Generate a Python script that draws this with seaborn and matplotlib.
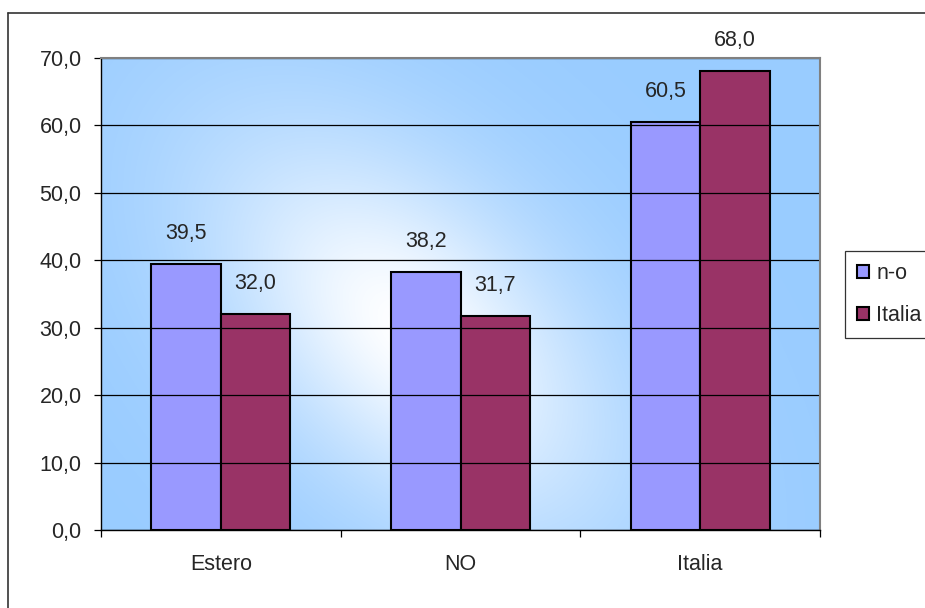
import numpy as np
import pandas as pd
import matplotlib
matplotlib.use("Agg")
import matplotlib.pyplot as plt
import seaborn as sns
from matplotlib.lines import Line2D
from matplotlib.colors import to_rgb

categories = ["Estero", "NO", "Italia"]
series_names = ["n-o", "Italia"]
values_no = [39.5, 38.2, 60.5]
values_italia = [32.0, 31.7, 68.0]
y_ticks = [0, 10, 20, 30, 40, 50, 60, 70]
colors = ["#9999FF", "#993366"]

df = pd.DataFrame({
    "cat": categories * 2,
    "serie": [series_names[0]] * 3 + [series_names[1]] * 3,
    "val": values_no + values_italia,
})

sns.set_style("white")
plt.rcParams["font.family"] = ["Liberation Sans", "DejaVu Sans"]
FS = 15.5

fig = plt.figure(figsize=(9.25, 6.08), dpi=100)
ax = fig.add_axes([101/925, 1-530/608, 719/925, 472/608])

# gradient background
H, W = 300, 460
yy, xx = np.mgrid[0:H, 0:W]
xa = xx / (W - 1)
ya = 1 - yy / (H - 1)
px = xa * 719
py = ya * 472
cx, cy = 0.43 * 719, 0.42 * 472
ang = np.deg2rad(-45)
ux, uy = np.cos(ang), np.sin(ang)
dx, dy = px - cx, py - cy
dpar = dx * ux + dy * uy
dperp = -dx * uy + dy * ux
t = np.exp(-((dpar / 240) ** 2 + (dperp / 140) ** 2) ** 0.9)
base = np.array(to_rgb("#99CCFF"))
white = np.array([1, 1, 1])
img = base[None, None, :] * (1 - t[..., None]) + white[None, None, :] * t[..., None]
ax.imshow(img, extent=[0, 1, 0, 1], transform=ax.transAxes, aspect="auto",
          zorder=0.1, interpolation="bilinear")

sns.barplot(data=df, x="cat", y="val", hue="serie", palette=colors,
            width=0.58, edgecolor="black", linewidth=1.5, ax=ax,
            zorder=2, legend=True, saturation=1)

ax.set_xlim(-0.5, 2.5)
ax.set_ylim(0, 70)
ax.set_yticks(y_ticks)
ax.set_yticklabels([f"{v:.1f}".replace(".", ",") for v in y_ticks], fontsize=FS)
ax.yaxis.grid(True, color="black", linewidth=0.9)
ax.set_axisbelow(False)
for gl in ax.get_ygridlines():
    gl.set_zorder(1)
ax.set_xlabel("")
ax.set_ylabel("")
ax.set_xticks(range(3))
ax.set_xticklabels(categories, fontsize=FS)
ax.set_xticks([-0.5, 0.5, 1.5, 2.5], minor=True)
ax.tick_params(axis="x", which="major", length=0, pad=17)
ax.tick_params(axis="x", which="minor", length=5, width=0.9, color="black", direction="out", bottom=True)
ax.tick_params(axis="y", length=5, width=0.9, color="black", direction="out", left=True, pad=9)

for s in ["top", "right"]:
    ax.spines[s].set_color("#808080")
    ax.spines[s].set_linewidth(1.5)
for s in ["left", "bottom"]:
    ax.spines[s].set_color("black")
    ax.spines[s].set_linewidth(1.0)
for s in ax.spines.values():
    s.set_zorder(3)

for cont in ax.containers:
    for bar in cont:
        h = bar.get_height()
        ax.annotate(f"{h:.1f}".replace(".", ","),
                    xy=(bar.get_x() + bar.get_width() / 2, h),
                    xytext=(0, 22), textcoords="offset points",
                    ha="center", va="center", fontsize=FS, zorder=4)

handles, labels = ax.get_legend_handles_labels()
ax.legend_.remove()
leg = fig.legend(handles, labels, loc="upper left",
                 bbox_to_anchor=(845/925, 1-251/608), bbox_transform=fig.transFigure,
                 fontsize=FS, frameon=True, fancybox=False, edgecolor="black",
                 handlelength=0.55, handleheight=0.55, handletextpad=0.35,
                 labelspacing=1.0, borderpad=0.55, borderaxespad=0)
leg.get_frame().set_linewidth(0.9)
for hnd in leg.legend_handles:
    hnd.set_edgecolor("black")
    hnd.set_linewidth(1.5)

# outer chart border (left and top visible)
fig.add_artist(Line2D([8/925, 8/925], [0, 1-13/608], transform=fig.transFigure,
                      color="#333333", linewidth=1.2))
fig.add_artist(Line2D([8/925, 1], [1-13/608, 1-13/608], transform=fig.transFigure,
                      color="#333333", linewidth=1.2))

fig.savefig("out.png", dpi=100)
